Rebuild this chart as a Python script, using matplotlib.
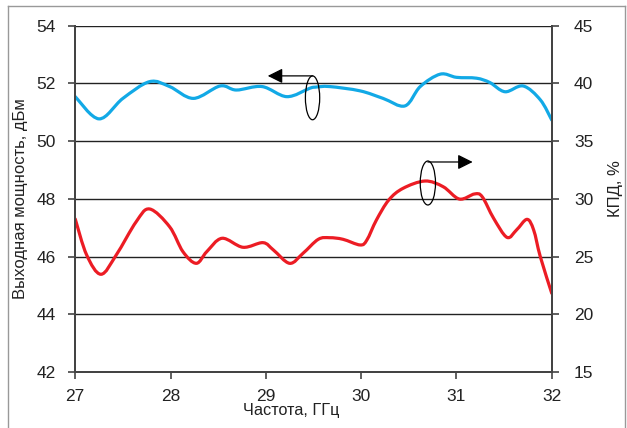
import matplotlib
matplotlib.use('Agg')
import matplotlib.pyplot as plt
from matplotlib.patches import Ellipse, PathPatch
from matplotlib.path import Path
from matplotlib.lines import Line2D

plt.rcParams['font.family'] = ['Liberation Sans', 'DejaVu Sans']

# output power, dBm (left axis)
freq_power = [27.00, 27.25, 27.50, 27.78, 27.99, 28.24, 28.52, 28.69, 28.96,
              29.22, 29.46, 29.52, 29.67, 29.99, 30.23, 30.46, 30.62, 30.83,
              31.00, 31.21, 31.35, 31.51, 31.70, 31.88, 32.00]
power = [51.54, 50.77, 51.48, 52.06, 51.89, 51.48, 51.91, 51.77, 51.89,
         51.54, 51.83, 51.87, 51.89, 51.74, 51.48, 51.22, 51.89, 52.32,
         52.21, 52.18, 52.03, 51.71, 51.91, 51.43, 50.73]

# efficiency, % (right axis)
freq_eff = [27.00, 27.12, 27.27, 27.43, 27.64, 27.78, 27.99, 28.13, 28.27,
            28.38, 28.54, 28.76, 28.97, 29.08, 29.25, 29.39, 29.55, 29.67,
            29.81, 29.99, 30.06, 30.16, 30.29, 30.44, 30.67, 30.86, 31.03,
            31.19, 31.27, 31.39, 31.53, 31.63, 31.74, 31.81, 31.88, 32.00]
eff = [28.25, 25.13, 23.46, 25.13, 28.02, 29.12, 27.58, 25.42, 24.41,
       25.42, 26.58, 25.80, 26.20, 25.56, 24.41, 25.28, 26.49, 26.63,
       26.49, 26.00, 26.43, 28.16, 29.90, 30.91, 31.54, 31.05, 29.98,
       30.42, 30.18, 28.31, 26.66, 27.30, 28.22, 27.30, 24.98, 21.81]

x_ticks = [27, 28, 29, 30, 31, 32]
left_ticks = [42, 44, 46, 48, 50, 52, 54]
right_ticks = [15, 20, 25, 30, 35, 40, 45]


def smooth_line(ax, xs, ys, color):
    # "smoothed line" look: bezier segments through the points
    pts = list(zip(xs, ys))
    verts = [pts[0]]
    codes = [Path.MOVETO]
    for i in range(len(pts) - 1):
        p0 = pts[max(i - 1, 0)]
        p1 = pts[i]
        p2 = pts[i + 1]
        p3 = pts[min(i + 2, len(pts) - 1)]
        c1 = (p1[0] + (p2[0] - p0[0]) / 6, p1[1] + (p2[1] - p0[1]) / 6)
        c2 = (p2[0] - (p3[0] - p1[0]) / 6, p2[1] - (p3[1] - p1[1]) / 6)
        verts += [c1, c2, p2]
        codes += [Path.CURVE4] * 3
    ax.add_patch(PathPatch(Path(verts, codes), fill=False, ec=color, lw=2.3,
                           capstyle='round', joinstyle='round'))


fig = plt.figure(figsize=(6.27, 4.28), dpi=100)
ax = fig.add_axes([0.120, 0.131, 0.760, 0.809])
ax2 = ax.twinx()

ax.set_xlim(27, 32)
ax.set_ylim(42, 54)
ax2.set_ylim(15, 45)
ax.set_xticks(x_ticks)
ax.set_yticks(left_ticks)
ax2.set_yticks(right_ticks)

ax.grid(axis='y', color='#222222', lw=1.0)
ax.set_axisbelow(True)

for a in (ax, ax2):
    a.spines['top'].set_visible(False)
    for s in ('left', 'right', 'bottom'):
        a.spines[s].set_color('#444444')
        a.spines[s].set_linewidth(1.4)
    a.tick_params(direction='out', length=5, width=1.2, color='#444444',
                  labelsize=12.5, labelcolor='#222222')
ax.tick_params(axis='y', pad=9)
ax2.tick_params(axis='y', pad=11)
ax.tick_params(axis='x', pad=7)

smooth_line(ax, freq_power, power, '#12A9E6')
smooth_line(ax2, freq_eff, eff, '#EC1C24')

# series markers: ellipse + arrow to the matching axis
ax.add_patch(Ellipse((29.49, 51.50), 0.15, 1.52, fill=False, ec='black', lw=0.9))
ax.annotate('', xy=(29.02, 52.26), xytext=(29.49, 52.26),
            arrowprops=dict(arrowstyle='-|>,head_length=0.9,head_width=0.45',
                            mutation_scale=10, color='black', lw=0.9,
                            shrinkA=0, shrinkB=0))
ax2.add_patch(Ellipse((30.70, 31.37), 0.16, 3.81, fill=False, ec='black', lw=0.9))
ax2.annotate('', xy=(31.17, 33.19), xytext=(30.70, 33.19),
             arrowprops=dict(arrowstyle='-|>,head_length=0.9,head_width=0.45',
                             mutation_scale=10, color='black', lw=0.9,
                             shrinkA=0, shrinkB=0))

fig.text(0.033, 0.535, 'Выходная мощность, дБм', rotation=90, ha='center',
         va='center', fontsize=12, color='#222222')
fig.text(0.981, 0.56, 'КПД, %', rotation=90, ha='center', va='center',
         fontsize=12, color='#222222')
fig.text(0.465, 0.042, 'Частота, ГГц', ha='center', va='center',
         fontsize=11.7, color='#222222')

# grey frame around the picture
for xs, ys in (([0.012, 0.012], [0.0, 0.986]), ([0.012, 0.997], [0.986, 0.986]),
               ([0.997, 0.997], [0.0, 0.986])):
    fig.add_artist(Line2D(xs, ys, color='#999999', lw=1.0))

fig.savefig('out.png', dpi=100)
